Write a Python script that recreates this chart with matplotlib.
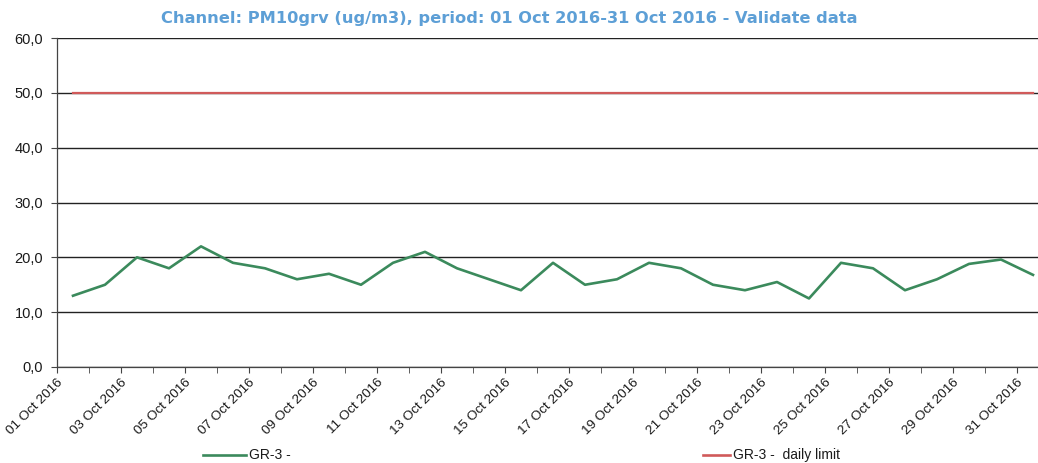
import matplotlib
matplotlib.use("Agg")
import matplotlib.pyplot as plt
from matplotlib.lines import Line2D

# daily PM10 values, 01..31 Oct 2016
DAYS = [f"{d:02d} Oct 2016" for d in range(1, 32)]
PM10 = [13, 15, 20, 18, 22, 19, 18, 16, 17, 15, 19, 21, 18, 16, 14, 19,
        15, 16, 19, 18, 15, 14, 15.5, 12.5, 19, 18, 14, 16, 18.8, 19.6, 16.8]
LIMIT = [50] * 31
YTICKS = [0, 10, 20, 30, 40, 50, 60]

GREEN = "#3b8a5c"; RED = "#d05a5a"; TITLE = "#5d9fd6"; INK = "#1a1a1a"

plt.rcParams["font.family"] = ["Liberation Sans", "DejaVu Sans"]
fig = plt.figure(figsize=(10.38, 4.63), dpi=100)
ax = fig.add_axes([57 / 1038, 1 - 367 / 463, 992 / 1038, 329 / 463])

x = list(range(len(DAYS)))
ax.plot(x, LIMIT, color=RED, lw=1.6, zorder=3)
ax.plot(x, PM10, color=GREEN, lw=1.9, zorder=3)

ax.set_xlim(-0.5, len(DAYS) - 0.5)
ax.set_ylim(0, 60)
ax.set_yticks(YTICKS)
ax.set_yticklabels([f"{v:.1f}".replace(".", ",") for v in YTICKS], fontsize=10.5, color=INK)
ax.yaxis.grid(True, color="#222222", lw=1.0, zorder=0)

ax.set_xticks([i - 0.5 for i in range(0, len(DAYS), 2)])
ax.set_xticklabels(DAYS[::2], rotation=45, ha="right", rotation_mode="anchor",
                   fontsize=9.7, color=INK)
ax.set_xticks([i - 0.5 for i in range(1, len(DAYS), 2)], minor=True)
ax.tick_params(axis="x", which="both", length=4, color="#444444", pad=3)
ax.tick_params(axis="y", length=4, color="#444444", pad=6)

for side in ("top", "right"):
    ax.spines[side].set_visible(False)
for side in ("left", "bottom"):
    ax.spines[side].set_color("#444444")
    ax.spines[side].set_linewidth(0.9)

fig.text(0.491, 1 - 18 / 463, "Channel: PM10grv (ug/m3), period: 01 Oct 2016-31 Oct 2016 - Validate data",
         ha="center", va="center", color=TITLE, fontsize=11.7, fontweight="bold",
         family="DejaVu Sans")

# legend drawn along the bottom
ly = 1 - 455 / 463
fig.add_artist(Line2D([203 / 1038, 246 / 1038], [ly, ly], color=GREEN, lw=1.9))
fig.text(249 / 1038, ly, "GR-3 -", va="center", fontsize=10, color=INK)
fig.add_artist(Line2D([703 / 1038, 730 / 1038], [ly, ly], color=RED, lw=1.9))
fig.text(733 / 1038, ly, "GR-3 -  daily limit", va="center", fontsize=10, color=INK)

fig.savefig("out.png", dpi=100)
